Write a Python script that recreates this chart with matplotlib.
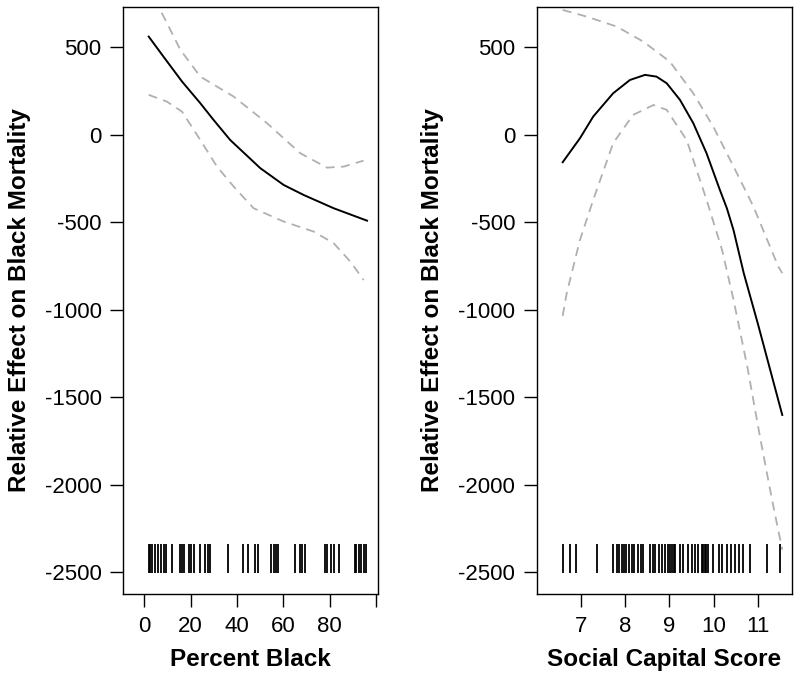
import matplotlib
matplotlib.use("Agg")
import matplotlib.pyplot as plt

plt.rcParams['font.family'] = ['Liberation Sans', 'DejaVu Sans']
plt.rcParams['axes.unicode_minus'] = False

# Left panel: effect of percent black
pb_x = [1.9, 8.3, 16.3, 24.2, 29.9, 37.1, 50.1, 60.2, 68.8, 81.8, 96.2]
pb_fit = [562, 447, 305, 181, 86, -29, -190, -286, -343, -419, -490]
pb_up_x = [1.9, 6.9, 15.6, 24.2, 38.6, 53.0, 67.4, 78.9, 86.1, 94.7]
pb_up = [850, 714, 486, 333, 219, 67, -105, -187, -181, -147]
pb_lo_x = [1.9, 9.8, 16.3, 24.2, 31.4, 38.6, 47.2, 60.2, 73.1, 81.8, 89.0, 94.7]
pb_lo = [229, 190, 133, -29, -181, -295, -419, -495, -552, -619, -724, -829]
pb_rug = [1.9, 2.6, 3.3, 4.8, 5.8, 7.2, 8.4, 9.5, 12.0, 15.6, 16.3, 17.0,
          19.2, 20.2, 21.6, 23.9, 26.4, 27.5, 28.5, 36.0, 42.6, 44.6, 48.0,
          49.1, 54.9, 55.9, 56.9, 57.7, 64.9, 67.4, 68.1, 69.5, 77.9, 78.8,
          80.8, 81.8, 83.9, 90.8, 91.6, 92.6, 93.7, 94.7, 95.9]

# Right panel: effect of social capital score
sc_x = [6.59, 6.98, 7.28, 7.73, 8.11, 8.45, 8.71, 8.94, 9.24, 9.54, 9.84,
        10.14, 10.30, 10.45, 10.68, 11.0, 11.55]
sc_fit = [-156, -19, 105, 238, 314, 343, 333, 295, 200, 67, -105,
          -314, -420, -545, -790, -1080, -1600]
sc_up_x = [6.59, 7.13, 7.81, 8.41, 9.01, 9.54, 9.99, 10.45, 10.90, 11.46, 11.55]
sc_up = [714, 676, 619, 533, 419, 238, 48, -181, -410, -752, -790]
sc_lo_x = [6.59, 6.68, 6.98, 7.28, 7.73, 8.18, 8.64, 8.94, 9.39, 9.84,
           10.19, 10.45, 10.76, 11.06, 11.32, 11.55]
sc_lo = [-1034, -905, -600, -371, -47, 114, 171, 143, -29, -371,
         -657, -943, -1324, -1743, -2086, -2370]
sc_rug = [6.60, 6.75, 6.88, 7.36, 7.73, 7.81, 7.86, 7.92, 7.98, 8.03, 8.09,
          8.15, 8.21, 8.28, 8.36, 8.41, 8.56, 8.62, 8.67, 8.76, 8.84, 8.90,
          8.98, 9.02, 9.06, 9.10, 9.13, 9.24, 9.31, 9.43, 9.50, 9.58, 9.65,
          9.73, 9.76, 9.80, 9.83, 9.88, 9.99, 10.11, 10.18, 10.30, 10.39,
          10.48, 10.58, 10.66, 10.81, 11.20, 11.50]

yticks = [500, 0, -500, -1000, -1500, -2000, -2500]
ylabel = 'Relative Effect on Black Mortality'

fig = plt.figure(figsize=(8, 6.83), dpi=100)
ax1 = fig.add_axes([0.154, 0.1303, 0.319, 0.8595])
ax2 = fig.add_axes([0.671, 0.1303, 0.319, 0.8595])

dash = (0, (5, 3.5))
grey = '#b0b0b0'


def draw(ax, x, fit, ux, up, lx, lo, rug):
    ax.plot(x, fit, color='black', lw=1.4)
    ax.plot(ux, up, color=grey, lw=1.3, linestyle=dash)
    ax.plot(lx, lo, color=grey, lw=1.3, linestyle=dash)
    ax.vlines(rug, -2503, -2337, color='black', lw=1.3)
    ax.set_ylim(-2623, 731)
    ax.set_yticks(yticks)
    ax.set_yticklabels([str(v) for v in yticks])
    ax.set_ylabel(ylabel, fontsize=17.5, fontweight='bold', labelpad=10)
    ax.tick_params(direction='out', length=9.5, width=1, labelsize=16, pad=6)
    for s in ax.spines.values():
        s.set_linewidth(1)


draw(ax1, pb_x, pb_fit, pb_up_x, pb_up, pb_lo_x, pb_lo, pb_rug)
ax1.set_xlim(-9.1, 101.1)
ax1.set_xticks([0, 20, 40, 60, 80, 100])
ax1.set_xticklabels(['0', '20', '40', '60', '80', ''])
ax1.set_xlabel('Percent Black', fontsize=17.5, fontweight='bold', labelpad=8)

draw(ax2, sc_x, sc_fit, sc_up_x, sc_up, sc_lo_x, sc_lo, sc_rug)
ax2.set_xlim(6.005, 11.77)
ax2.set_xticks([7, 8, 9, 10, 11])
ax2.set_xlabel('Social Capital Score', fontsize=17.5, fontweight='bold', labelpad=8)

fig.savefig('out.png', dpi=100)
